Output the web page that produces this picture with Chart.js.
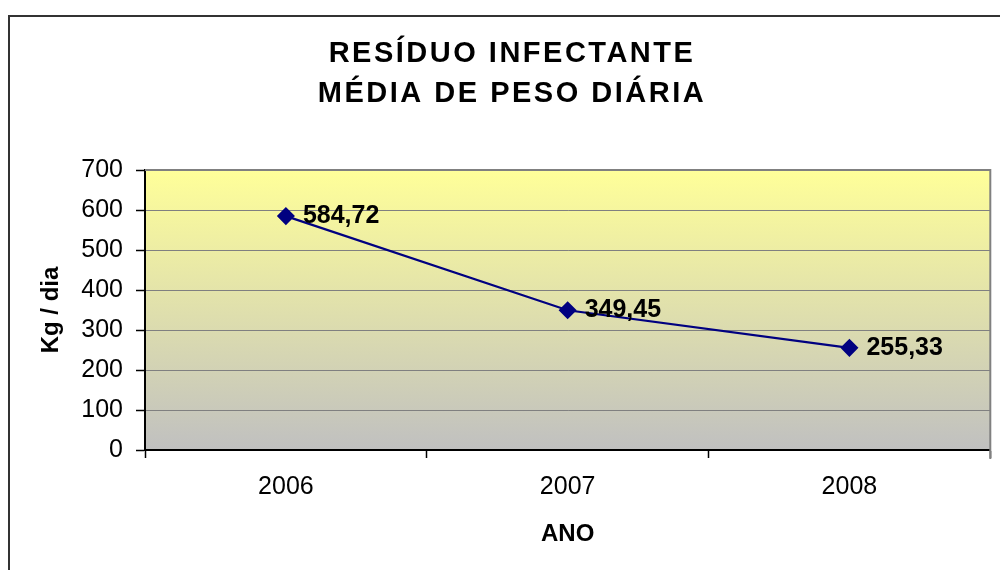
<!DOCTYPE html>
<html>
<head>
<meta charset="utf-8">
<script src="https://cdn.jsdelivr.net/npm/chart.js@4"></script>
<style>
  body { margin: 0; background: #fff; }
  #wrap { width: 1000px; height: 570px; }
</style>
</head>
<body>
<div id="wrap"><canvas id="chart"></canvas></div>
<script>
// dados do gráfico
const years = ['2006', '2007', '2008'];
const kgPerDay = [584.72, 349.45, 255.33];
const yMin = 0;
const yMax = 700;
const yStep = 100;
const titleLines = ['RESÍDUO INFECTANTE', 'MÉDIA DE PESO DIÁRIA'];
const xTitle = 'ANO';
const yTitle = 'Kg / dia';

const FONT = '"Liberation Sans", Arial, sans-serif';

// fundo branco + gradiente da área de plotagem
const backdrop = {
  id: 'backdrop',
  beforeDraw(chart) {
    const { ctx, chartArea: a } = chart;
    ctx.save();
    ctx.fillStyle = '#fff';
    ctx.fillRect(0, 0, chart.width, chart.height);
    const g = ctx.createLinearGradient(0, a.top, 0, a.bottom);
    g.addColorStop(0, '#FFFF99');
    g.addColorStop(1, '#C0C0C0');
    ctx.fillStyle = g;
    ctx.fillRect(a.left, a.top, a.right - a.left, a.bottom - a.top);
    ctx.restore();
  }
};

// moldura, título e rótulos de valor
const extras = {
  id: 'extras',
  afterDraw(chart) {
    const { ctx, chartArea: a } = chart;
    ctx.save();
    // borda cinza superior/direita da área
    ctx.strokeStyle = '#808080';
    ctx.lineWidth = 2;
    ctx.beginPath();
    ctx.moveTo(a.left, a.top);
    ctx.lineTo(a.right, a.top);
    ctx.lineTo(a.right, a.bottom + 9);
    ctx.stroke();

    // moldura externa
    ctx.strokeStyle = '#333';
    ctx.lineWidth = 2;
    ctx.strokeRect(9, 16, 1100, 700);

    // título
    ctx.fillStyle = '#000';
    ctx.font = 'bold 29px ' + FONT;
    ctx.letterSpacing = '2.5px';
    ctx.textAlign = 'center';
    ctx.textBaseline = 'alphabetic';
    ctx.fillText(titleLines[0], 512, 62);
    ctx.fillText(titleLines[1], 512, 102);
    ctx.letterSpacing = '0px';

    // rótulos de dados
    const meta = chart.getDatasetMeta(0);
    ctx.font = 'bold 25px ' + FONT;
    ctx.textAlign = 'left';
    ctx.textBaseline = 'middle';
    meta.data.forEach((pt, i) => {
      const txt = kgPerDay[i].toFixed(2).replace('.', ',');
      ctx.fillText(txt, pt.x + 17, pt.y);
    });
    ctx.restore();
  }
};

new Chart(document.getElementById('chart'), {
  type: 'line',
  data: {
    labels: years,
    datasets: [{
      data: kgPerDay,
      borderColor: '#000080',
      backgroundColor: '#000080',
      borderWidth: 2.2,
      pointStyle: 'rectRot',
      pointRadius: 7.5,
      pointHoverRadius: 7.5,
      tension: 0
    }]
  },
  options: {
    responsive: true,
    maintainAspectRatio: false,
    animation: false,
    events: [],
    layout: { padding: { left: 0, top: 170, right: 7, bottom: 0 } },
    plugins: {
      legend: { display: false },
      title: { display: false },
      tooltip: { enabled: false }
    },
    scales: {
      x: {
        type: 'category',
        offset: true,
        grid: {
          offset: true,
          drawOnChartArea: false,
          drawTicks: true,
          tickLength: 8,
          tickColor: '#000',
          tickWidth: 1.5
        },
        border: { display: true, color: '#000', width: 2 },
        ticks: {
          color: '#000',
          font: { family: FONT, size: 25 },
          padding: 14
        },
        title: {
          display: true,
          text: xTitle,
          color: '#000',
          font: { family: FONT, size: 24, weight: 'bold' },
          padding: { top: 0, bottom: 21 }
        },
        afterFit(scale) { scale.height = 120; }
      },
      y: {
        min: yMin,
        max: yMax,
        ticks: {
          stepSize: yStep,
          color: '#000',
          font: { family: FONT, size: 25 },
          padding: 13
        },
        grid: {
          color: '#808080',
          lineWidth: 1,
          drawTicks: true,
          tickLength: 9,
          tickColor: '#000',
          tickWidth: 1.5
        },
        border: { display: true, color: '#000', width: 2 },
        title: {
          display: true,
          text: yTitle,
          color: '#000',
          font: { family: FONT, size: 24, weight: 'bold' },
          padding: { top: 37, bottom: 0 }
        },
        afterFit(scale) { scale.width = 145; }
      }
    }
  },
  plugins: [backdrop, extras]
});
</script>
</body>
</html>
